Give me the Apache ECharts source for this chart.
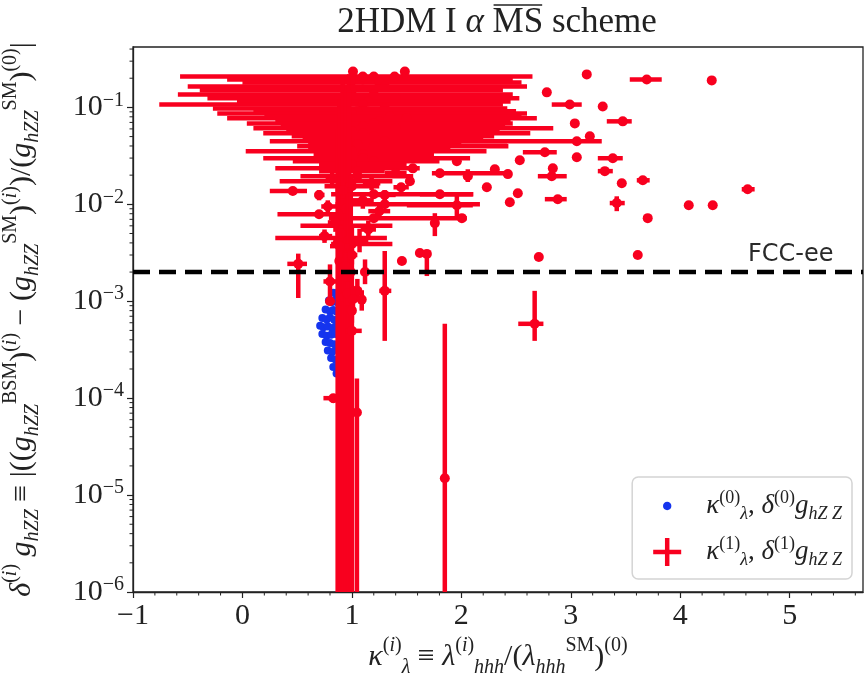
<!DOCTYPE html>
<html><head><meta charset="utf-8">
<script src="https://cdn.jsdelivr.net/npm/echarts@6/dist/echarts.min.js"></script>
<style>html,body{margin:0;padding:0;background:#fff}#c{width:866px;height:684px}</style>
</head><body><div id="c"></div>
<script>
// ---------- axis ranges & ticks ----------
const X_MIN = -1, X_MAX = 5.67;
const Y_MIN = 1e-6, Y_MAX = 0.42;
const FCC_EE = 0.002;
const xMinorTicks = [-0.8,-0.6,-0.4,-0.2,0.2,0.4,0.6,0.8,1.2,1.4,1.6,1.8,2.2,2.4,2.6,2.8,3.2,3.4,3.6,3.8,4.2,4.4,4.6,4.8,5.2,5.4,5.6];
const yMinorMantissa = [2,3,4,5,6,7,8,9];
const yDecades = [-6,-5,-4,-3,-2,-1];

// ---------- tree level (blue) ----------
const blueKappa = [0.83,0.86,0.88, 0.79,0.82,0.85,0.87, 0.76,0.80,0.83,0.86, 0.73,0.77,0.80,0.84,0.88,
  0.71,0.74,0.78,0.82,0.86, 0.73,0.77,0.81,0.85, 0.76,0.80,0.84, 0.78,0.82,0.86, 0.81,0.85, 0.83,0.87, 0.86];
const blueDelta = [1.22e-3,1.18e-3,1.25e-3, 1.02e-3,0.98e-3,1.03e-3,0.97e-3, 8.2e-4,7.9e-4,8.1e-4,7.8e-4,
  6.7e-4,6.5e-4,6.8e-4,6.4e-4,6.6e-4, 5.6e-4,5.4e-4,5.5e-4,5.3e-4,5.6e-4, 4.6e-4,4.4e-4,4.5e-4,4.6e-4,
  3.8e-4,3.7e-4,3.6e-4, 3.1e-4,3.0e-4,3.2e-4, 2.6e-4,2.5e-4, 2.1e-4,2.15e-4, 1.8e-4];

// ---------- one loop (red): [kappa, delta, kappaLo, kappaHi, deltaLo, deltaHi] ----------
const redBlobRows = [
 [1.20,0.208,-0.57,2.65,0.195,0.222],[1.10,0.194,-0.14,2.47,0.182,0.206],[1.25,0.181,0.00,2.55,0.170,0.192],
 [1.30,0.164,-0.50,2.60,0.154,0.175],[1.00,0.150,-0.39,2.38,0.141,0.160],[1.20,0.136,-0.59,2.47,0.128,0.145],
 [1.40,0.124,-0.32,2.53,0.116,0.132],[1.15,0.115,-0.05,2.45,0.108,0.122],[1.10,0.107,-0.76,2.38,0.100,0.114],
 [1.30,0.0977,-0.27,2.42,0.092,0.104],[1.05,0.0910,0.10,2.50,0.085,0.097],[1.00,0.0867,-0.23,2.60,0.081,0.092],
 [1.35,0.0807,0.20,2.55,0.076,0.086],[1.50,0.0771,-0.14,2.69,0.072,0.082],[1.25,0.0718,0.30,2.45,0.067,0.077],
 [1.20,0.0684,0.04,2.47,0.064,0.073],[1.10,0.0638,0.35,2.40,0.060,0.068],[1.40,0.0608,0.10,2.84,0.057,0.065],
 [1.00,0.0566,0.40,2.35,0.053,0.060],[1.10,0.0541,0.19,2.63,0.051,0.058],[1.20,0.0504,0.45,2.30,0.047,0.054],
 [0.95,0.0480,0.55,2.20,0.045,0.051],[1.30,0.0447,0.25,2.42,0.042,0.048],[1.05,0.0416,0.60,2.00,0.039,0.044],
 [1.20,0.0397,0.50,2.43,0.037,0.042],[0.98,0.0370,0.60,1.90,0.035,0.039],[1.00,0.0352,0.03,2.23,0.033,0.037],
 [1.10,0.0328,0.65,1.75,0.031,0.035],[1.10,0.0299,0.19,2.08,0.028,0.032],[1.20,0.0278,0.46,1.80,0.026,0.030],
 [1.00,0.0260,0.70,1.50,0.0245,0.0275],[0.95,0.0235,0.30,1.62,0.022,0.025],[1.05,0.0220,0.70,1.30,0.0207,0.0233],
 [1.05,0.0195,0.53,1.56,0.0183,0.0207],[0.90,0.0173,0.34,1.37,0.0163,0.0183],[1.00,0.0154,0.75,1.25,0.0145,0.0163],
 [0.46,0.0137,0.25,0.59,0.0130,0.0144],[1.20,0.0127,0.81,2.11,0.0120,0.0134],[1.30,0.0100,0.85,2.17,0.0094,0.0106],
 [0.70,0.0079,0.32,1.00,0.0074,0.0084],[1.20,0.0072,0.79,2.05,0.0068,0.0076],[0.95,0.0060,0.53,1.37,0.0056,0.0064],
 [0.90,0.0045,0.30,1.32,0.0042,0.0048],[1.00,0.0039,0.81,1.37,0.0037,0.0041]
];
const redCluster = [
 [0.80,0.0016,0.74,0.86,0.0011,0.0024],[0.96,0.0012,0.92,1.00,0.0009,0.0016],[1.05,0.00128,1.02,1.09,0.0010,0.0017],
 [1.01,0.00105,0.98,1.05,0.0008,0.0014],[1.09,0.00104,1.06,1.12,0.0008,0.0013],[0.80,0.0010,0.78,0.82,0.0010,0.0010],
 [0.94,0.0023,0.88,1.00,0.0016,0.0032],[1.12,0.0020,1.08,1.16,0.0015,0.0027],[0.89,0.0037,0.80,0.98,0.0028,0.0050],
 [1.07,0.0042,1.00,1.15,0.0032,0.0056],[0.75,0.0047,0.70,0.82,0.0040,0.0055],[1.15,0.0055,1.08,1.22,0.0045,0.0068],
 [0.85,0.0065,0.78,0.92,0.0052,0.0080],[1.25,0.0085,1.15,1.35,0.0070,0.0100],[0.78,0.0095,0.72,0.86,0.0080,0.0110],
 [1.10,0.0110,1.00,1.20,0.0090,0.0130],[0.92,0.0140,0.85,1.00,0.0115,0.0170],[1.18,0.0165,1.10,1.26,0.0140,0.0195],
 [0.82,0.0185,0.76,0.90,0.0160,0.0215],[1.30,0.0125,1.22,1.40,0.0110,0.0140],[0.70,0.0125,0.66,0.75,0.0110,0.0140],
 [1.00,0.0030,0.95,1.05,0.0024,0.0038],[0.90,0.0050,0.85,0.95,0.0042,0.0060],[1.40,0.0210,1.30,1.50,0.0190,0.0235],
 [1.45,0.0150,1.38,1.52,0.0135,0.0165]
];
const redColumn = [
 [0.870,0.0040,0.850,0.890,1e-7,0.06],[0.885,0.0026,0.870,0.900,1e-7,0.12],[0.900,0.0016,0.885,0.915,1e-7,0.03],
 [0.915,0.0060,0.900,0.930,1e-7,0.20],[0.930,0.0011,0.915,0.945,1e-7,0.008],[0.945,0.0090,0.930,0.960,1e-7,0.15],
 [0.960,0.0030,0.945,0.975,1e-7,0.05],[0.975,0.0150,0.955,0.995,1e-7,0.22],[0.990,0.0020,0.975,1.005,1e-7,0.02],
 [1.000,0.0013,0.990,1.020,1e-7,0.006],[1.000,0.0008,0.985,1.030,6e-4,0.0011],[1.046,7.1e-5,1.046,1.046,1e-7,1.6e-4],
 [0.830,1.0e-4,0.740,0.890,9e-5,1.1e-4],[1.000,4.95e-4,0.940,1.090,4.6e-4,5.3e-4],[1.849,1.49e-5,1.849,1.849,1e-7,5.85e-4]
];
const redCrosses = [
 [0.51,0.00243,0.41,0.59,0.00108,0.0031],[1.30,0.00128,1.25,1.36,3.9e-4,3.3e-3],[2.67,5.85e-4,2.52,2.75,3.9e-4,1.28e-3]
];
const redScatter = [
 [3.146,0.219,3.146,3.146,0.219,0.219],[3.694,0.194,3.539,3.831,0.194,0.194],[4.288,0.190,4.288,4.288,0.190,0.190],
 [2.781,0.143,2.781,2.781,0.143,0.143],[2.991,0.107,2.826,3.100,0.107,0.107],[3.292,0.102,3.292,3.292,0.102,0.102],
 [3.037,0.0684,3.037,3.037,0.0684,0.0684],[3.475,0.0718,3.329,3.557,0.0718,0.0718],[3.055,0.0447,1.922,3.283,0.0447,0.0447],
 [3.174,0.0504,3.174,3.174,0.0504,0.0504],[2.763,0.0344,2.562,2.872,0.0344,0.0344],[3.055,0.0306,3.055,3.055,0.0306,0.0306],
 [3.384,0.0299,3.247,3.475,0.0299,0.0299],[2.534,0.0285,2.534,2.534,0.0285,0.0285],[2.306,0.0230,2.306,2.306,0.0230,0.0230],
 [3.311,0.0220,3.247,3.384,0.0220,0.0220],[2.425,0.0205,2.425,2.425,0.0205,0.0205],[2.826,0.0195,2.699,2.963,0.0195,0.0195],
 [2.836,0.0235,2.836,2.836,0.0235,0.0235],[3.658,0.0177,3.603,3.721,0.0177,0.0177],[3.466,0.0165,3.466,3.466,0.0165,0.0165],
 [2.233,0.0150,2.233,2.233,0.0150,0.0150],[4.616,0.0143,4.562,4.680,0.0143,0.0143],[2.516,0.0130,2.516,2.516,0.0130,0.0130],
 [2.443,0.0105,2.443,2.443,0.0105,0.0105],[2.881,0.0113,2.763,2.963,0.0113,0.0113],[3.420,0.0103,3.356,3.493,0.0085,0.0121],
 [4.078,0.0098,4.078,4.078,0.0098,0.0098],[4.297,0.0098,4.297,4.297,0.0098,0.0098],[3.703,0.0072,3.703,3.703,0.0072,0.0072],
 [2.708,0.00286,2.708,2.708,0.00286,0.00286],[3.612,0.0030,3.612,3.612,0.0030,0.0030],
 [1.530,0.0173,1.530,1.530,0.0173,0.0173],[1.804,0.0209,1.731,2.443,0.0209,0.0209],[2.059,0.0195,2.02,2.10,0.017,0.023],
 [1.557,0.0235,1.557,1.557,0.0235,0.0235],[1.959,0.0278,1.959,1.959,0.0278,0.0278],[1.804,0.0127,1.621,2.105,0.0127,0.0127],
 [1.959,0.0098,1.502,2.105,0.0072,0.0127],[2.005,0.0072,2.005,2.005,0.0072,0.0072],[1.758,0.0064,1.758,1.758,0.0047,0.0081],
 [1.621,0.00315,1.621,1.621,0.00315,0.00315],[1.685,0.00308,1.685,1.685,0.00182,0.00308],[1.457,0.0026,1.457,1.457,0.0026,0.0026],
 [1.01,0.234,1.01,1.01,0.15,0.234],[1.484,0.234,1.484,1.484,0.20,0.234],[1.10,0.208,1.10,1.10,0.208,0.208],[1.39,0.208,1.39,1.39,0.208,0.208]
];

// ---------- styling ----------
const RED = '#f8001f', BLUE = '#1534ee', INK = '#222';
const SERIF = '"Liberation Serif", "DejaVu Serif", serif';
const NAME0 = 'tree', NAME1 = 'loop';

const chart = echarts.init(document.getElementById('c'), null, {renderer: 'canvas'});

const supStyle = {fontFamily: SERIF, fontSize: 20, verticalAlign: 'top', lineHeight: 19, color: INK};
const supIStyle = Object.assign({}, supStyle, {fontStyle: 'italic'});
const subStyle = {fontFamily: SERIF, fontSize: 20, fontStyle: 'italic', verticalAlign: 'bottom', lineHeight: 19, color: INK};
const mStyle = {fontFamily: SERIF, fontSize: 30, fontStyle: 'italic', lineHeight: 42, color: INK};
const rStyle = {fontFamily: SERIF, fontSize: 30, lineHeight: 42, color: INK};
const nameRich = {m: mStyle, r: rStyle, sup: supStyle, supi: supIStyle, sub: subStyle};

const yName = '{m|δ}{sup|(}{supi|i}{sup|)}{r| }{m|g}{sub|hZZ}{r| ≡ |((}{m|g}{sub|hZZ}{sup|BSM}{r|)}{sup|(}{supi|i}{sup|)}{r| − (}{m|g}{sub|hZZ}{sup|SM}{r|)}{sup|(}{supi|i}{sup|)}{r|)/(}{m|g}{sub|hZZ}{sup|SM}{r|)}{sup|(0)}{r||}';
const xName = '{m|κ}{sup|(}{supi|i}{sup|)}{sub|λ}{r| ≡ }{m|λ}{sup|(}{supi|i}{sup|)}{sub|hhh}{r|/(}{m|λ}{sub|hhh}{sup|SM}{r|)}{sup|(0)}';

const legendText = {};
legendText[NAME0] = '{m|κ}{sup|(0)}{sub|λ}{r|, }{m|δ}{sup|(0)}{m|g}{sub|hZ Z}';
legendText[NAME1] = '{m|κ}{sup|(1)}{sub|λ}{r|, }{m|δ}{sup|(1)}{m|g}{sub|hZ Z}';
const legRich = {
  m: {fontFamily: SERIF, fontSize: 27, fontStyle: 'italic', lineHeight: 34, color: INK},
  r: {fontFamily: SERIF, fontSize: 27, lineHeight: 34, color: INK},
  sup: {fontFamily: SERIF, fontSize: 18, verticalAlign: 'top', lineHeight: 16, color: INK},
  sub: {fontFamily: SERIF, fontSize: 18, fontStyle: 'italic', verticalAlign: 'bottom', lineHeight: 16, color: INK}
};

// error-bar renderer
function renderErr(params, api) {
  const x = api.value(0), y = api.value(1), xl = api.value(2), xh = api.value(3), yl = api.value(4), yh = api.value(5);
  const c = api.coord([x, y]);
  const a = api.coord([xl, y]), b = api.coord([xh, y]);
  const u = api.coord([x, yh]), d = api.coord([x, yl]);
  const st = {stroke: RED, lineWidth: 4.5, fill: null};
  return {type: 'group', children: [
    {type: 'line', shape: {x1: a[0], y1: a[1], x2: b[0], y2: b[1]}, style: st},
    {type: 'line', shape: {x1: u[0], y1: u[1], x2: d[0], y2: d[1]}, style: st},
    {type: 'circle', shape: {cx: c[0], cy: c[1], r: 5}, style: {fill: RED}}
  ]};
}

const redAll = [].concat(redBlobRows, redColumn, redCluster, redCrosses, redScatter);

// minor tick decorations
const yMinor = [];
yDecades.forEach(e => yMinorMantissa.forEach(m => { const v = m * Math.pow(10, e); if (v < Y_MAX) yMinor.push([X_MIN, v]); }));
const xMinor = xMinorTicks.map(v => [v, Y_MIN]);

// title with overline on MS
function measure(font, text) {
  const ctx = document.createElement('canvas').getContext('2d');
  ctx.font = font; return ctx.measureText(text).width;
}
const TS = 35, TFONT = TS + 'px ' + SERIF, TFONTI = 'italic ' + TS + 'px ' + SERIF;
const tParts = [['2HDM I ', TFONT], ['α', TFONTI], [' ', TFONT], ['MS', TFONT], [' scheme', TFONT]];
const tW = tParts.map(p => measure(p[1], p[0]));
const tTotal = tW.reduce((s, w) => s + w, 0);
let tx = 497 - tTotal / 2;
const titleEls = [];
let msX = 0;
tParts.forEach((p, i) => {
  if (i === 3) msX = tx;
  titleEls.push({type: 'text', x: tx, y: 23, style: {text: p[0], font: p[1], fill: INK, verticalAlign: 'middle', align: 'left'}});
  tx += tW[i];
});
titleEls.push({type: 'line', shape: {x1: msX + 1, y1: 5, x2: msX + tW[3] - 1, y2: 5}, style: {stroke: INK, lineWidth: 1.5}});

const option = {
  backgroundColor: '#fff',
  animation: false,
  graphic: titleEls,
  grid: {left: 133, right: 3, top: 47, bottom: 92, show: true, borderColor: INK, borderWidth: 1.3,
    backgroundColor: 'transparent', containLabel: false, outerBoundsMode: 'none'},
  legend: {
    right: 14, top: 477, orient: 'vertical', selectedMode: false,
    backgroundColor: '#fff', borderColor: '#d4d4d4', borderWidth: 1.5, borderRadius: 6,
    padding: [12, 10, 10, 21], itemGap: 12, itemWidth: 28, itemHeight: 28,
    data: [
      {name: NAME0, icon: 'path://M0,0 M100,100 M50,35 C58.3,35 65,41.7 65,50 C65,58.3 58.3,65 50,65 C41.7,65 35,58.3 35,50 C35,41.7 41.7,35 50,35 Z', itemStyle: {color: BLUE}},
      {name: NAME1, icon: 'path://M0,42 L100,42 L100,58 L0,58 Z M42,0 L58,0 L58,100 L42,100 Z', itemStyle: {color: RED}}
    ],
    formatter: n => legendText[n],
    textStyle: {rich: legRich, padding: [0, 0, 0, 20]}
  },
  xAxis: {
    type: 'value', min: X_MIN, max: X_MAX, interval: 1,
    name: xName, nameLocation: 'middle', nameGap: 44, nameTextStyle: {rich: nameRich},
    axisLine: {show: true, onZero: false, lineStyle: {color: INK, width: 1.3}},
    axisTick: {show: true, length: 6, lineStyle: {color: INK, width: 1.2}},
    splitLine: {show: false},
    axisLabel: {showMaxLabel: false, margin: 9, fontFamily: SERIF, fontSize: 30, color: INK,
      formatter: v => String(Math.round(v)).replace('-', '−')}
  },
  yAxis: {
    type: 'log', logBase: 10, min: Y_MIN, max: Y_MAX, interval: 1,
    name: yName, nameLocation: 'middle', nameRotate: 90, nameGap: 90, nameTextStyle: {rich: nameRich},
    axisLine: {show: true, onZero: false, lineStyle: {color: INK, width: 1.3}},
    axisTick: {show: true, length: 6, lineStyle: {color: INK, width: 1.2}},
    minorTick: {show: false},
    splitLine: {show: false},
    axisLabel: {showMaxLabel: false, margin: 9,
      formatter: v => '{b|10}{s|−' + Math.abs(Math.round(Math.log10(v))) + '}',
      rich: {b: {fontFamily: SERIF, fontSize: 30, color: INK, lineHeight: 34},
             s: {fontFamily: SERIF, fontSize: 20, color: INK, verticalAlign: 'top', lineHeight: 18}}}
  },
  series: [
    {name: NAME0, type: 'scatter', symbol: 'circle', symbolSize: 8, z: 2,
     itemStyle: {color: BLUE, opacity: 1},
     data: blueKappa.map((k, i) => [k, blueDelta[i]])},
    {name: NAME1, type: 'custom', z: 3, clip: true, renderItem: renderErr,
     itemStyle: {color: RED},
     dimensions: ['k', 'd', 'kl', 'kh', 'dl', 'dh'], encode: {x: 0, y: 1},
     data: redAll},
    {name: 'FCC-ee', type: 'line', z: 8, symbol: 'circle', symbolSize: 1, showSymbol: true, silent: true, animation: false,
     itemStyle: {color: 'rgba(0,0,0,0)'},
     lineStyle: {color: '#000', width: 4.5, type: [17, 9]},
     label: {show: false, position: 'left', offset: [-24, -17], formatter: 'FCC-ee',
       fontFamily: '"DejaVu Sans", sans-serif', fontSize: 24, color: '#2a2a2a'},
     data: [[X_MIN, FCC_EE], {value: [X_MAX, FCC_EE], label: {show: true}}]},
    {name: 'yMinorTicks', type: 'custom', silent: true, clip: false, z: 5, data: yMinor, encode: {x: 0, y: 1},
     renderItem: (p, api) => { const c = api.coord([api.value(0), api.value(1)]);
       return {type: 'line', shape: {x1: c[0] - 3.5, y1: c[1], x2: c[0], y2: c[1]}, style: {stroke: INK, lineWidth: 1}}; }},
    {name: 'xMinorTicks', type: 'custom', silent: true, clip: false, z: 5, data: xMinor, encode: {x: 0, y: 1},
     renderItem: (p, api) => { const c = api.coord([api.value(0), api.value(1)]);
       return {type: 'line', shape: {x1: c[0], y1: c[1], x2: c[0], y2: c[1] + 3.5}, style: {stroke: INK, lineWidth: 1}}; }}
  ]
};
chart.setOption(option);
</script>
</body></html>
